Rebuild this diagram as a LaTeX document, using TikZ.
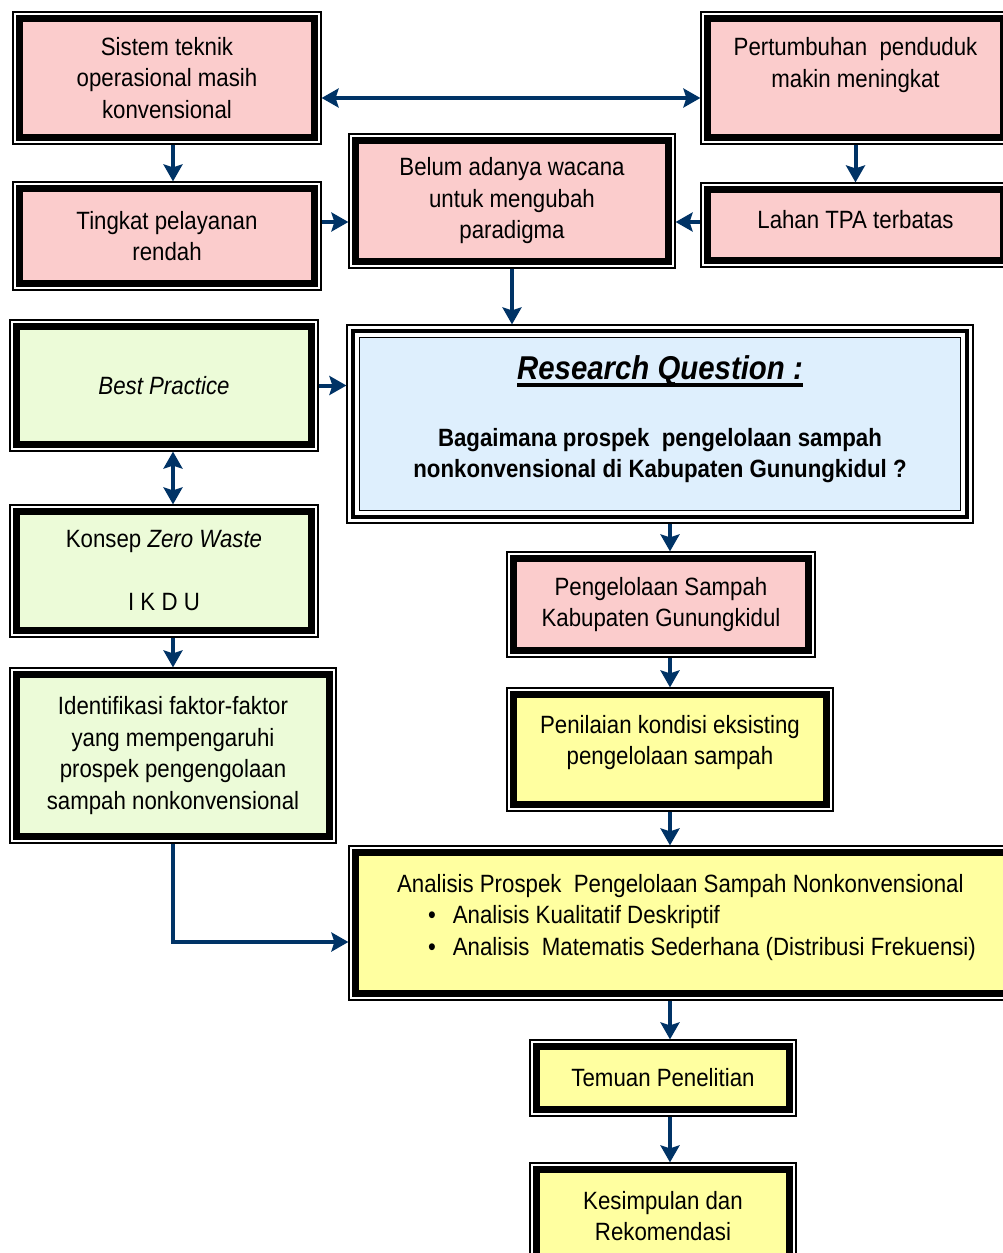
\documentclass[tikz,border=0pt]{standalone}
\usepackage{fontspec}
\setmainfont{Liberation Sans}[FakeStretch=0.89]
\usetikzlibrary{arrows.meta,calc}
\definecolor{navy}{RGB}{0,51,102}
\definecolor{boxpink}{RGB}{251,204,204}
\definecolor{boxgreen}{RGB}{236,251,216}
\definecolor{boxblue}{RGB}{222,239,253}
\definecolor{boxyellow}{RGB}{255,255,160}
\newcommand\rqul[1]{\setbox0\hbox{#1}\rlap{\rule[-7pt]{\wd0}{3.5pt}}\box0}
\begin{document}
\begin{tikzpicture}[x=1pt,y=-1pt,
  txt/.style={font=\fontsize{25pt}{31.5pt}\selectfont},
  box/.style={draw=black, line width=1.2pt, fill=white, inner sep=0pt, align=center, txt,
    path picture={\draw[line width=6.6pt, fill=#1]
      ([shift={(6.7pt,-6.7pt)}]path picture bounding box.north west) rectangle
      ([shift={(-6.7pt,6.7pt)}]path picture bounding box.south east);}},
  rqbox/.style={draw=black, line width=1.2pt, fill=white, inner sep=0pt, align=center, txt,
    path picture={\draw[line width=4.5pt]
      ([shift={(6pt,-6pt)}]path picture bounding box.north west) rectangle
      ([shift={(-6pt,6pt)}]path picture bounding box.south east);
      \draw[line width=1.5pt, fill=boxblue]
      ([shift={(12.5pt,-12.5pt)}]path picture bounding box.north west) rectangle
      ([shift={(-12.5pt,12.5pt)}]path picture bounding box.south east);}},
  tip/.tip={Stealth[length=17pt,width=19pt,inset=3pt]},
  arr/.style={draw=navy, line width=4pt, -tip},
  dbl/.style={draw=navy, line width=4pt, tip-tip}]
\clip (0,0) rectangle (1003,1253);
\fill[white] (0,0) rectangle (1003,1253);

% boxes
\node[box=boxpink, minimum width=308pt, minimum height=132pt] (sistem) at (167,78)
  {Sistem teknik\\operasional masih\\konvensional};
\node[box=boxpink, minimum width=309pt, minimum height=132pt] (pert) at (855.5,78)
  {Pertumbuhan\ \ penduduk\\makin meningkat\\\mbox{}};
\node[box=boxpink, minimum width=308pt, minimum height=108pt] (tingkat) at (167,236)
  {Tingkat pelayanan\\rendah};
\node[box=boxpink, minimum width=326pt, minimum height=134pt] (belum) at (512,201)
  {Belum adanya wacana\\untuk mengubah\\paradigma};
\node[box=boxpink, minimum width=309pt, minimum height=84pt] (lahan) at (855.5,225)
  {Lahan TPA terbatas\\[-19.5pt]\mbox{}};
\node[box=boxgreen, minimum width=308pt, minimum height=131pt] (best) at (164,385.5)
  {\itshape Best Practice};
\node[rqbox, minimum width=626pt, minimum height=198pt, font=\fontsize{25pt}{31.5pt}\selectfont\bfseries] (rq) at (660,424)
  {{\fontsize{33pt}{40pt}\selectfont\itshape\rqul{Research Question :}}\\[35pt]
   Bagaimana prospek\ \ pengelolaan sampah\\nonkonvensional di Kabupaten Gunungkidul ?\\[-17.5pt]\mbox{}};
\node[box=boxgreen, minimum width=308pt, minimum height=132pt] (konsep) at (164,571)
  {Konsep \textit{Zero Waste}\\\mbox{}\\I K D U};
\node[box=boxpink, minimum width=308pt, minimum height=105pt] (peng) at (661,604.5)
  {Pengelolaan Sampah\\Kabupaten Gunungkidul};
\node[box=boxgreen, minimum width=326pt, minimum height=175pt] (ident) at (173,755.5)
  {Identifikasi faktor-faktor\\yang mempengaruhi\\prospek pengengolaan\\sampah nonkonvensional};
\node[box=boxyellow, minimum width=326pt, minimum height=123pt] (penil) at (670,749.5)
  {Penilaian kondisi eksisting\\pengelolaan sampah\\[-12pt]\mbox{}};
\node[box=boxyellow, minimum width=675pt, minimum height=154pt, align=left] (anal) at (686.5,923)
  {Analisis Prospek\ \ Pengelolaan Sampah Nonkonvensional\\
   \hspace*{31pt}\textbullet\hspace{17pt}Analisis Kualitatif Deskriptif\\
   \hspace*{31pt}\textbullet\hspace{17pt}Analisis\ \ Matematis Sederhana (Distribusi Frekuensi)\\[-14.5pt]\mbox{}};
\node[box=boxyellow, minimum width=266pt, minimum height=76pt] (temuan) at (663,1078)
  {Temuan Penelitian};
\node[box=boxyellow, minimum width=266pt, minimum height=106pt] (kesim) at (663,1216)
  {Kesimpulan dan\\Rekomendasi};

% guide coordinates
\coordinate (cl) at (173,0);
\coordinate (cm) at (670,0);
\coordinate (ytop) at (0,98);
\coordinate (ymid) at (0,222);
\coordinate (ya) at (0,942);

% connectors
\draw[dbl] (sistem.east |- ytop) -- (pert.west |- ytop);
\draw[arr] (sistem.south -| cl) -- (tingkat.north -| cl);
\draw[arr] (pert.south) -- (lahan.north);
\draw[arr] (tingkat.east |- ymid) -- (belum.west |- ymid);
\draw[arr] (lahan.west |- ymid) -- (belum.east |- ymid);
\draw[arr] (belum.south) -- (rq.north -| belum.south);
\draw[arr] (best.east) -- (best.east -| rq.west);
\draw[dbl] (best.south -| cl) -- (konsep.north -| cl);
\draw[arr] (konsep.south -| cl) -- (ident.north -| cl);
\draw[arr] (rq.south -| cm) -- (peng.north -| cm);
\draw[arr] (peng.south -| cm) -- (penil.north -| cm);
\draw[arr] (penil.south -| cm) -- (anal.north -| cm);
\draw[arr] (ident.south -| cl) |- (anal.west |- ya);
\draw[arr] (anal.south -| cm) -- (temuan.north -| cm);
\draw[arr] (temuan.south -| cm) -- (kesim.north -| cm);
\end{tikzpicture}
\end{document}
